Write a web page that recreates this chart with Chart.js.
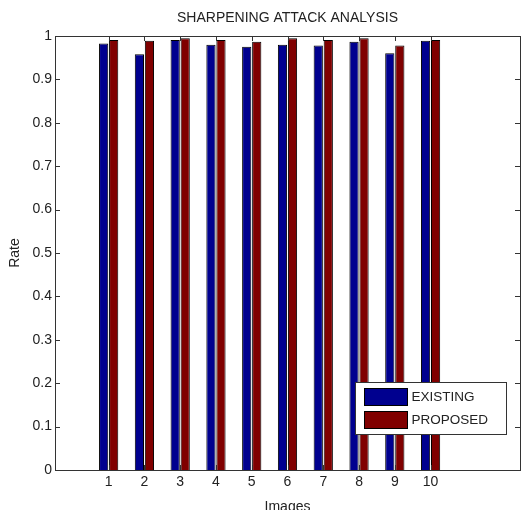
<!DOCTYPE html>
<html>
<head>
<meta charset="utf-8">
<script src="https://cdn.jsdelivr.net/npm/chart.js@4/dist/chart.umd.min.js"></script>
<style>
  html, body { margin: 0; padding: 0; background: #fff; }
  #wrap { width: 531px; height: 510px; }
</style>
</head>
<body>
<div id="wrap"><canvas id="chart" width="531" height="510"></canvas></div>
<script>
// Chart data
const images = [1, 2, 3, 4, 5, 6, 7, 8, 9, 10];
const existing = [0.983, 0.958, 0.991, 0.980, 0.975, 0.980, 0.978, 0.987, 0.960, 0.989];
const proposed = [0.991, 0.989, 0.995, 0.991, 0.987, 0.995, 0.991, 0.995, 0.978, 0.991];
const yTicks = [0, 0.1, 0.2, 0.3, 0.4, 0.5, 0.6, 0.7, 0.8, 0.9, 1];

const titleText = 'SHARPENING ATTACK ANALYSIS';
const fontFamily = '"Liberation Sans", Arial, sans-serif';
const ink = '#222';

// Draws the matlab style box, inward ticks, title and legend
const matlabAxes = {
    id: 'matlabAxes',
    afterDraw(chart) {
        const ctx = chart.ctx;
        const ca = chart.chartArea;
        const xs = chart.scales.x, ys = chart.scales.y;
        const tick = 5;

        ctx.save();
        ctx.strokeStyle = '#333';
        ctx.lineWidth = 1;
        ctx.strokeRect(Math.round(ca.left) + 0.5, Math.round(ca.top) + 0.5,
            Math.round(ca.right - ca.left), Math.round(ca.bottom - ca.top));

        ctx.beginPath();
        images.forEach(v => {
            const px = Math.round(xs.getPixelForValue(v)) + 0.5;
            ctx.moveTo(px, ca.bottom); ctx.lineTo(px, ca.bottom - tick);
            ctx.moveTo(px, ca.top); ctx.lineTo(px, ca.top + tick);
        });
        yTicks.forEach(v => {
            const py = Math.round(ys.getPixelForValue(v)) + 0.5;
            ctx.moveTo(ca.left, py); ctx.lineTo(ca.left + tick, py);
            ctx.moveTo(ca.right, py); ctx.lineTo(ca.right - tick, py);
        });
        ctx.stroke();

        // title over the axes
        ctx.fillStyle = ink;
        ctx.font = '14px ' + fontFamily;
        ctx.textAlign = 'center';
        ctx.textBaseline = 'middle';
        ctx.fillText(titleText, (ca.left + ca.right) / 2, ca.top - 18);

        // legend in the lower right corner
        const boxW = 151, boxH = 52;
        const bx = Math.round(ca.right - 14 - boxW) + 0.5;
        const by = Math.round(ca.bottom - 36 - boxH) + 0.5;
        ctx.fillStyle = '#fff';
        ctx.fillRect(bx, by, boxW, boxH);
        ctx.strokeStyle = '#333';
        ctx.strokeRect(bx, by, boxW, boxH);

        ctx.font = '13.5px ' + fontFamily;
        ctx.textAlign = 'left';
        chart.data.datasets.forEach((ds, i) => {
            const sy = by + 6 + i * 23;
            ctx.fillStyle = ds.backgroundColor;
            ctx.fillRect(bx + 9, sy, 43, 17);
            ctx.strokeStyle = '#000';
            ctx.strokeRect(bx + 9, sy, 43, 17);
            ctx.fillStyle = ink;
            ctx.fillText(ds.label, bx + 56, sy + 9);
        });
        ctx.restore();
    }
};

const ctx = document.getElementById('chart').getContext('2d');
new Chart(ctx, {
    type: 'bar',
    data: {
        datasets: [{
            label: 'EXISTING',
            data: images.map((im, i) => ({ x: im, y: existing[i] })),
            backgroundColor: '#00008F',
            borderColor: '#000',
            borderWidth: 1
        }, {
            label: 'PROPOSED',
            data: images.map((im, i) => ({ x: im, y: proposed[i] })),
            backgroundColor: '#800000',
            borderColor: '#000',
            borderWidth: 1
        }]
    },
    options: {
        responsive: false,
        animation: false,
        devicePixelRatio: 1,
        layout: { padding: { left: 0, right: 11, top: 36, bottom: 0 } },
        categoryPercentage: 0.56,
        barPercentage: 0.92,
        plugins: {
            legend: { display: false },
            title: { display: false },
            tooltip: { enabled: false }
        },
        scales: {
            x: {
                type: 'linear',
                min: 0,
                max: 12,
                grid: { display: false, drawTicks: false },
                border: { display: false },
                ticks: {
                    stepSize: 1,
                    padding: 4,
                    color: ink,
                    font: { family: fontFamily, size: 14 },
                    callback: v => images.includes(v) ? String(v) : ''
                },
                title: {
                    display: true,
                    text: 'Images',
                    color: ink,
                    padding: { top: 0, bottom: -6 },
                    font: { family: fontFamily, size: 14 }
                },
                afterFit(scale) { scale.height = 40; }
            },
            y: {
                min: 0,
                max: 1,
                grid: { display: false, drawTicks: false },
                border: { display: false },
                ticks: {
                    stepSize: 0.1,
                    padding: 3,
                    color: ink,
                    font: { family: fontFamily, size: 14 },
                    callback: v => String(Math.round(v * 10) / 10)
                },
                title: {
                    display: true,
                    text: 'Rate',
                    color: ink,
                    padding: { top: 7, bottom: 0 },
                    font: { family: fontFamily, size: 14 }
                },
                afterFit(scale) { scale.width = 55; }
            }
        }
    },
    plugins: [matlabAxes]
});
</script>
</body>
</html>
